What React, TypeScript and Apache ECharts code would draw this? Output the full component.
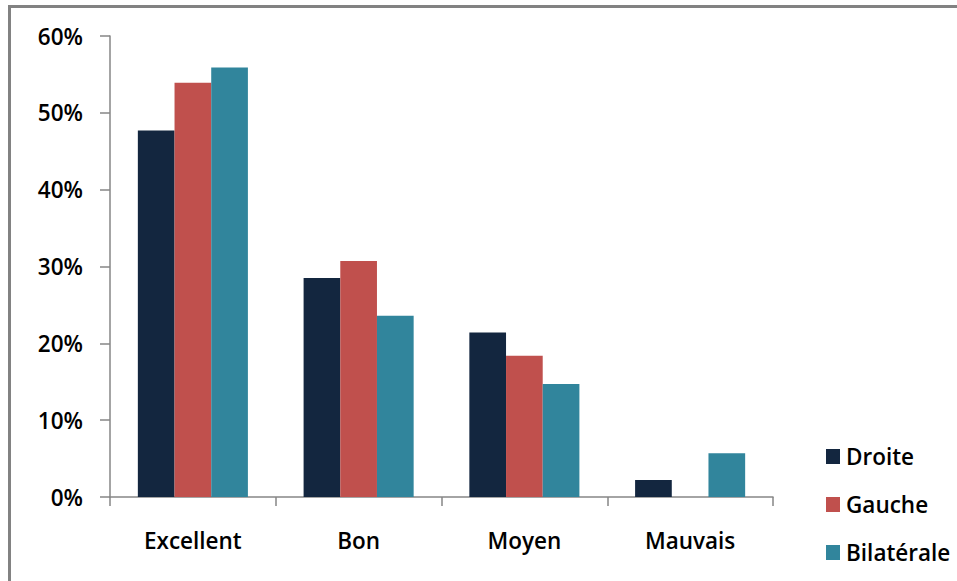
import React, { useEffect, useRef } from "react";
import * as echarts from "echarts";

const categories = ["Excellent", "Bon", "Moyen", "Mauvais"];
const droite = [47.7, 28.5, 21.4, 2.2];
const gauche = [53.9, 30.7, 18.4, 0];
const bilaterale = [55.9, 23.6, 14.7, 5.7];
const seriesNames = ["Droite", "Gauche", "Bilatérale"];
const colors = ["#13263f", "#c0504d", "#31859c"];

const FONT = "'Open Sans', Lato, sans-serif";
const WEIGHT = 600;
const SIZE = 22.5;

export default function App() {
  const ref = useRef<HTMLDivElement>(null);

  useEffect(() => {
    if (!ref.current) return;
    const chart = echarts.init(ref.current, null, { renderer: "svg" });
    const values = [droite, gauche, bilaterale];
    chart.setOption({
      animation: false,
      backgroundColor: "#ffffff",
      grid: { left: 110, right: 184, top: 36, bottom: 84, containLabel: false },
      legend: {
        orient: "vertical",
        left: 821,
        top: 440,
        itemWidth: 14,
        itemHeight: 15,
        itemGap: 25,
        icon: "rect",
        data: seriesNames,
        textStyle: {
          fontFamily: FONT,
          fontSize: SIZE,
          fontWeight: WEIGHT,
          color: "#000",
          padding: [0, 0, 0, 1],
        },
      },
      xAxis: {
        type: "category",
        data: categories,
        axisLine: { lineStyle: { color: "#868686", width: 1.5 } },
        axisTick: { show: true, length: 9, lineStyle: { color: "#868686", width: 1.5 } },
        axisLabel: { margin: 32, fontFamily: FONT, fontSize: SIZE, fontWeight: WEIGHT, color: "#000" },
      },
      yAxis: {
        type: "value",
        min: 0,
        max: 60,
        interval: 10,
        splitLine: { show: false },
        axisLine: { show: true, lineStyle: { color: "#868686", width: 1.5 } },
        axisTick: { show: true, length: 10, lineStyle: { color: "#868686", width: 1.5 } },
        axisLabel: {
          margin: 27,
          formatter: "{value}%",
          fontFamily: FONT,
          fontSize: SIZE,
          fontWeight: WEIGHT,
          color: "#000",
        },
      },
      series: seriesNames.map((name, i) => ({
        name,
        type: "bar",
        data: values[i],
        itemStyle: { color: colors[i] },
        barGap: "0%",
        barCategoryGap: "33.6%",
      })),
      graphic: [
        {
          type: "rect",
          shape: { x: 9.5, y: 6.5, width: 1000, height: 700 },
          style: { fill: "none", stroke: "#828282", lineWidth: 3 },
          silent: true,
        },
      ],
    });
    return () => chart.dispose();
  }, []);

  return (
    <div
      ref={ref}
      style={{ position: "absolute", left: 0, top: 0, width: 957, height: 581 }}
    />
  );
}
